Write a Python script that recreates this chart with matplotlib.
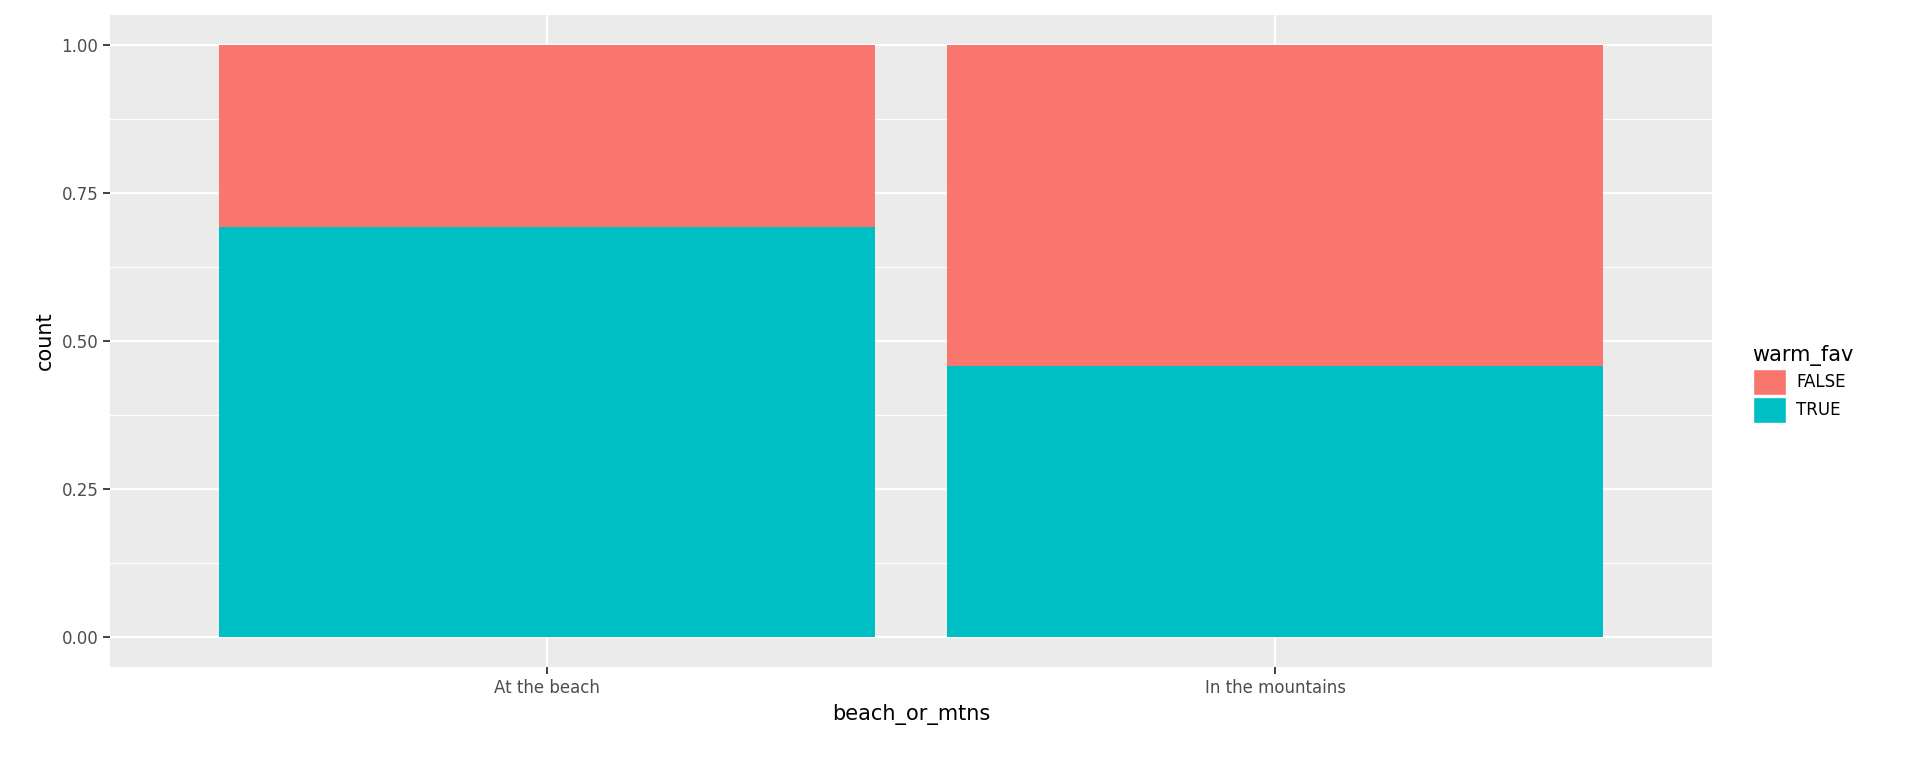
import matplotlib
matplotlib.use('Agg')
import matplotlib.pyplot as plt
from matplotlib.patches import Patch

# data
categories = ['At the beach', 'In the mountains']
true_share = [0.692, 0.457]
false_share = [1 - v for v in true_share]
fill_false = '#F8766D'
fill_true = '#00BFC4'

fig = plt.figure(figsize=(19.2, 7.68), dpi=100)
ax = fig.add_axes([0.0574, 0.131, 0.8342, 0.85])
ax.set_facecolor('#EBEBEB')

x = [1, 2]
ax.bar(x, true_share, width=0.9, color=fill_true, zorder=3)
ax.bar(x, false_share, width=0.9, bottom=true_share, color=fill_false, zorder=3)

ax.set_xlim(0.4, 2.6)
ax.set_ylim(-0.0506, 1.0506)
ax.set_xticks(x)
ax.set_xticklabels(categories)
ax.set_yticks([0, 0.25, 0.5, 0.75, 1.0])
ax.set_yticklabels(['0.00', '0.25', '0.50', '0.75', '1.00'])
ax.set_yticks([0.125, 0.375, 0.625, 0.875], minor=True)

ax.grid(True, which='major', color='white', linewidth=1.6, zorder=0)
ax.grid(True, which='minor', axis='y', color='white', linewidth=0.8, zorder=0)
ax.tick_params(which='minor', length=0)
ax.tick_params(which='major', length=5, width=1.3, color='#333333',
               labelsize=12, labelcolor='#4D4D4D')
for s in ax.spines.values():
    s.set_visible(False)

ax.set_xlabel('beach_or_mtns', fontsize=15, labelpad=5)
ax.set_ylabel('count', fontsize=15, labelpad=5)

handles = [Patch(facecolor=fill_false, edgecolor='white', label='FALSE'),
           Patch(facecolor=fill_true, edgecolor='white', label='TRUE')]
leg = fig.legend(handles=handles, title='warm_fav', loc='center left',
                 bbox_to_anchor=(0.905, 0.5), frameon=False, fontsize=12,
                 title_fontsize=15, handlelength=2.0, handleheight=2.0,
                 handletextpad=0.6, labelspacing=0.15)
leg._legend_box.align = 'left'

fig.savefig('out.png', dpi=100)
